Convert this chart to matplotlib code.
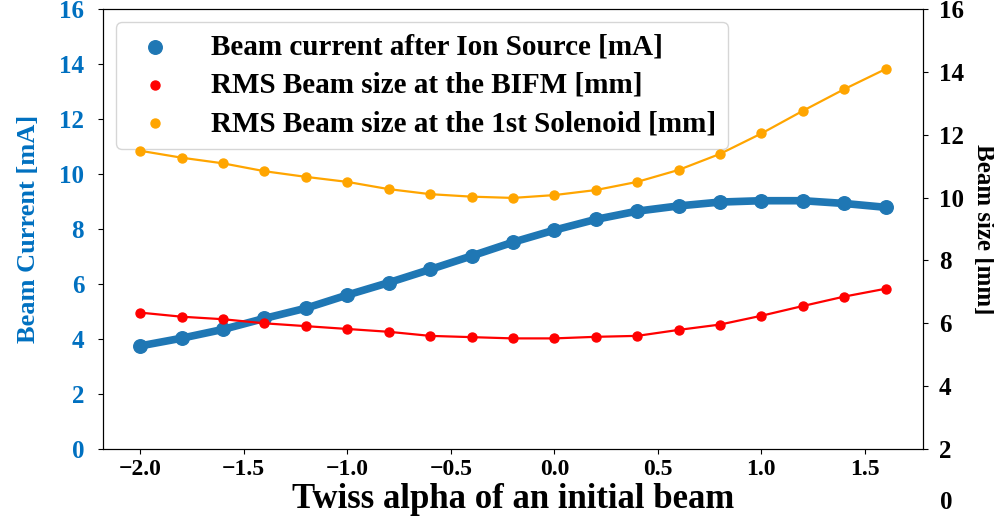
import numpy as np
import matplotlib
matplotlib.use("Agg")
import matplotlib.pyplot as plt

plt.rcParams['font.family'] = ['Liberation Serif', 'DejaVu Serif']
plt.rcParams['font.weight'] = 'bold'

# Twiss alpha scan
alpha = [-2.0, -1.8, -1.6, -1.4, -1.2, -1.0, -0.8, -0.6, -0.4, -0.2,
         0.0, 0.2, 0.4, 0.6, 0.8, 1.0, 1.2, 1.4, 1.6]

# beam current after the ion source [mA]
current = [3.75, 4.03, 4.35, 4.75, 5.12, 5.60, 6.05, 6.53, 7.02, 7.52,
           7.96, 8.35, 8.65, 8.84, 8.98, 9.03, 9.03, 8.93, 8.79]

# rms beam size at the BIFM [mm]
size_bifm = [6.34, 6.21, 6.13, 6.00, 5.91, 5.82, 5.73, 5.60, 5.56, 5.52,
             5.52, 5.57, 5.60, 5.79, 5.96, 6.24, 6.55, 6.85, 7.10]

# rms beam size at the 1st solenoid [mm]
size_sol = [11.49, 11.27, 11.09, 10.84, 10.66, 10.50, 10.27, 10.11, 10.03, 9.99,
            10.08, 10.24, 10.50, 10.88, 11.39, 12.04, 12.76, 13.45, 14.09]

blue_txt = '#0070C0'

fig = plt.figure(figsize=(9.95, 5.17), dpi=100)
ax = fig.add_axes([0.1035, 0.1315, 0.824, 0.851])
ax2 = ax.twinx()

ax.plot(alpha, current, color='#1f77b4', lw=5.5, zorder=2)
s1 = ax.scatter(alpha, current, s=95, color='#1f77b4', zorder=3,
                label='Beam current after Ion Source [mA]')

ax2.plot(alpha, size_bifm, color='red', lw=1.6)
s2 = ax2.scatter(alpha, size_bifm, s=42, color='red',
                 label='RMS Beam size at the BIFM [mm]')
ax2.plot(alpha, size_sol, color='orange', lw=1.6)
s3 = ax2.scatter(alpha, size_sol, s=42, color='orange',
                 label='RMS Beam size at the 1st Solenoid [mm]')

ax.set_ylim(0, 16)
ax.set_yticks(np.arange(0, 17, 2))
ax2.set_ylim(2, 16)
ax2.set_yticks(np.arange(2, 17, 2))
ax.set_xticks(np.arange(-2.0, 1.6, 0.5))

ax.tick_params(axis='y', labelsize=18, labelcolor=blue_txt, pad=10)
ax.tick_params(axis='x', labelsize=17, pad=4)
ax2.tick_params(axis='y', labelsize=18, pad=8)
# extra "0" under the right-hand scale
ax2.text(1.021, 0.3, '0', transform=ax2.get_yaxis_transform(), fontsize=18,
         fontweight='bold', ha='left', va='center')

ax.set_xlabel('Twiss alpha of an initial beam', fontsize=25, fontweight='bold',
              labelpad=2)
ax.set_ylabel('Beam Current [mA]', fontsize=19, fontweight='bold', color=blue_txt,
              labelpad=14)
ax2.set_ylabel('Beam size [mm]', fontsize=18, fontweight='bold',
               rotation=270, labelpad=22)

leg = ax.legend(handles=[s1, s2, s3], loc='upper left',
                prop={'weight': 'bold', 'size': 21}, handletextpad=0.95,
                borderaxespad=0.45, labelspacing=0.38, handlelength=1.9)

fig.savefig('out.png', dpi=100)
